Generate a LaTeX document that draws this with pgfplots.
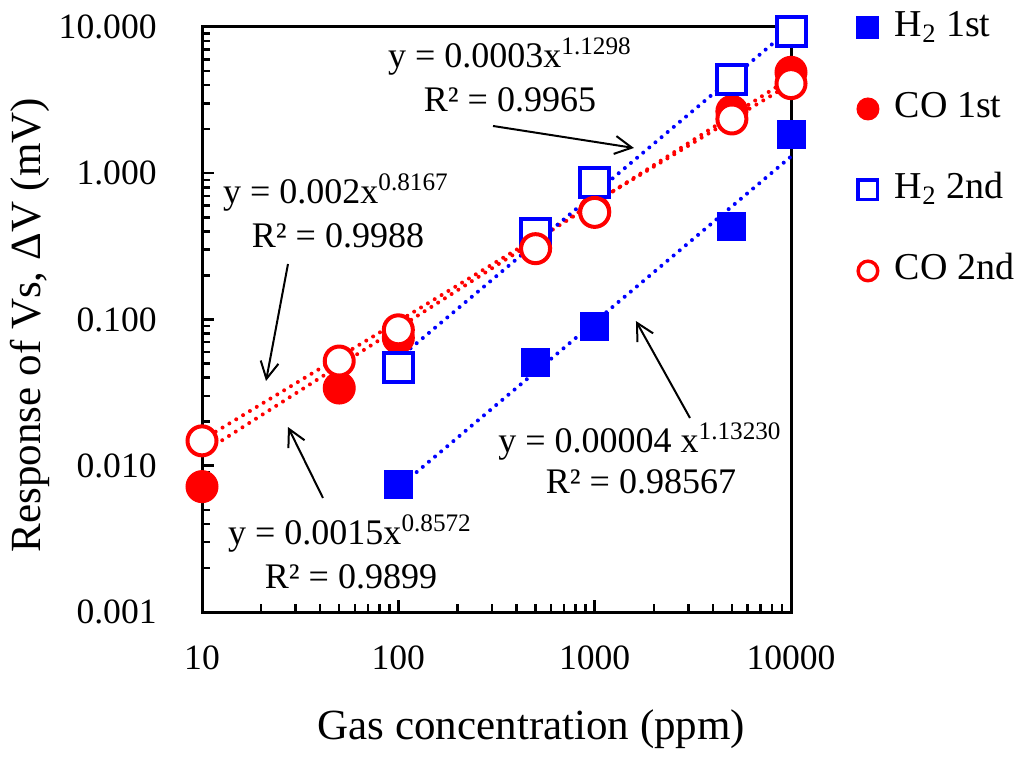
\documentclass[border=0pt]{standalone}
\usepackage{fontspec}
\setmainfont{Liberation Serif}
\usepackage{pgfplots}
\pgfplotsset{compat=1.18}
\usetikzlibrary{arrows.meta}
\definecolor{eblue}{RGB}{0,0,255}
\definecolor{ered}{RGB}{255,0,0}
\newcommand{\tickfont}{\fontsize{17.8}{21}\selectfont}
\newcommand{\annfont}{\fontsize{18}{21}\selectfont}
\newcommand{\labfont}{\fontsize{21.5}{25}\selectfont}
\newcommand{\legfont}{\fontsize{19}{22}\selectfont}
\begin{document}
\begin{tikzpicture}
\path[use as bounding box] (0,0) rectangle (512pt,380pt);
\begin{axis}[
  at={(101pt,74pt)}, anchor=south west,
  scale only axis, width=294.5pt, height=292.5pt,
  xmode=log, ymode=log,
  xmin=10, xmax=10000, ymin=0.001, ymax=10,
  clip=false,
  axis line style={line width=1.5pt},
  every tick/.style={line width=1.25pt, black},
  tick align=inside, tick pos=left,
  major tick length=6pt, minor tick length=4pt,
  xtick={10,100,1000,10000},
  xticklabels={10,100,1000,10000},
  minor xtick={20,30,40,50,60,70,80,90,200,300,400,500,600,700,800,900,2000,3000,4000,5000,6000,7000,8000,9000},
  ytick={0.001,0.01,0.1,1,10},
  yticklabels={0.001,0.010,0.100,1.000,10.000},
  minor ytick={0.002,0.003,0.004,0.005,0.006,0.007,0.008,0.009,0.02,0.03,0.04,0.05,0.06,0.07,0.08,0.09,0.2,0.3,0.4,0.5,0.6,0.7,0.8,0.9,2,3,4,5,6,7,8,9},
  xticklabel style={font=\tickfont, inner sep=0pt, anchor=north, yshift=-16.5pt},
  yticklabel style={font=\tickfont, inner sep=0pt, anchor=east, xshift=-22.5pt},
  xlabel={Gas concentration (ppm)},
  ylabel={Response of Vs, ΔV (mV)},
  xlabel style={font=\labfont, at={(axis description cs:0.5594,-0.2188)}, anchor=base, inner sep=0pt},
  ylabel style={font=\labfont, at={(axis description cs:-0.275,0.4906)}, anchor=base, inner sep=0pt, rotate=0},
  legend style={at={(axis description cs:1.112,1.0274)}, anchor=north west, draw=none, fill=none,
    inner sep=0pt, outer sep=0pt, row sep=23.5pt, font=\legfont,
    nodes={inner sep=0pt, text height=13pt, text depth=4pt},
    /tikz/every odd column/.append style={column sep=8pt}},
  legend cell align=left,
  legend image code/.code={\draw[#1] plot coordinates {(0pt,0pt)};},
]
% H2 1st trendline (under its markers)
\addplot[forget plot, eblue, line width=2pt, line cap=round, dash pattern=on 0pt off 4pt, mark=none]
  coordinates {(100,0.0071) (10000,1.3)};
% H2 1st
\addplot[only marks, mark=square*, mark size=7pt, draw=eblue, fill=eblue, line width=0.5pt,
  legend image post style={mark size=5.5pt}]
  coordinates {(100,0.0075) (500,0.051) (1000,0.089) (5000,0.43) (10000,1.85)};
\addlegendentry{H\textsubscript{2} 1st}
% CO 1st
\addplot[only marks, mark=*, mark size=8pt, draw=ered, fill=ered, line width=0.5pt,
  legend image post style={mark size=5.5pt}]
  coordinates {(10,0.0072) (50,0.034) (100,0.075) (500,0.31) (1000,0.55) (5000,2.65) (10000,4.9)};
\addlegendentry{CO 1st}
% H2 2nd
\addplot[only marks, mark=square*, mark size=7.25pt, draw=eblue, fill=white, line width=2pt,
  legend image post style={mark size=4.9pt, line width=1.7pt}]
  coordinates {(100,0.047) (500,0.39) (1000,0.86) (5000,4.4) (10000,9.3)};
\addlegendentry{H\textsubscript{2} 2nd}
% CO 2nd
\addplot[only marks, mark=*, mark size=7.25pt, draw=ered, fill=white, line width=2pt,
  legend image post style={mark size=4.9pt, line width=1.7pt}]
  coordinates {(10,0.0148) (50,0.052) (100,0.085) (500,0.305) (1000,0.54) (5000,2.35) (10000,4.1)};
\addlegendentry{CO 2nd}
% trendlines on top
\addplot[forget plot, ered, line width=2pt, line cap=round, dash pattern=on 0pt off 4pt, mark=none]
  coordinates {(10,0.0122) (10000,4.5)};
\addplot[forget plot, ered, line width=2pt, line cap=round, dash pattern=on 0pt off 4pt, mark=none]
  coordinates {(10,0.0150) (10000,4.1)};
\addplot[forget plot, eblue, line width=2pt, line cap=round, dash pattern=on 0pt off 4pt, mark=none]
  coordinates {(100,0.054) (10000,9.8)};
% annotations
\node[anchor=base, font=\annfont] at (axis description cs:0.5229,0.9316) {y = 0.0003x\textsuperscript{1.1298}};
\node[anchor=base, font=\annfont] at (axis description cs:0.5229,0.8547) {R² = 0.9965};
\node[anchor=base, font=\annfont] at (axis description cs:0.2275,0.6991) {y = 0.002x\textsuperscript{0.8167}};
\node[anchor=base, font=\annfont] at (axis description cs:0.2309,0.6239) {R² = 0.9988};
\node[anchor=base, font=\annfont] at (axis description cs:0.2513,0.1162) {y = 0.0015x\textsuperscript{0.8572}};
\node[anchor=base, font=\annfont] at (axis description cs:0.2530,0.0410) {R² = 0.9899};
\node[anchor=base, font=\annfont] at (axis description cs:0.7436,0.2735) {y = 0.00004 x\textsuperscript{1.13230}};
\node[anchor=base, font=\annfont] at (axis description cs:0.7453,0.2034) {R² = 0.98567};
\draw[line width=1pt, -{Straight Barb[length=8.5pt,width=9pt]}] (axis description cs:0.4941,0.8308) -- (axis description cs:0.7334,0.7932);
\draw[line width=1pt, -{Straight Barb[length=8.5pt,width=9pt]}] (axis description cs:0.1460,0.5949) -- (axis description cs:0.1087,0.3949);
\draw[line width=1pt, -{Straight Barb[length=8.5pt,width=9pt]}] (axis description cs:0.2054,0.1949) -- (axis description cs:0.1460,0.3162);
\draw[line width=1pt, -{Straight Barb[length=8.5pt,width=9pt]}] (axis description cs:0.8285,0.3316) -- (axis description cs:0.7368,0.4974);
\end{axis}
\end{tikzpicture}
\end{document}
